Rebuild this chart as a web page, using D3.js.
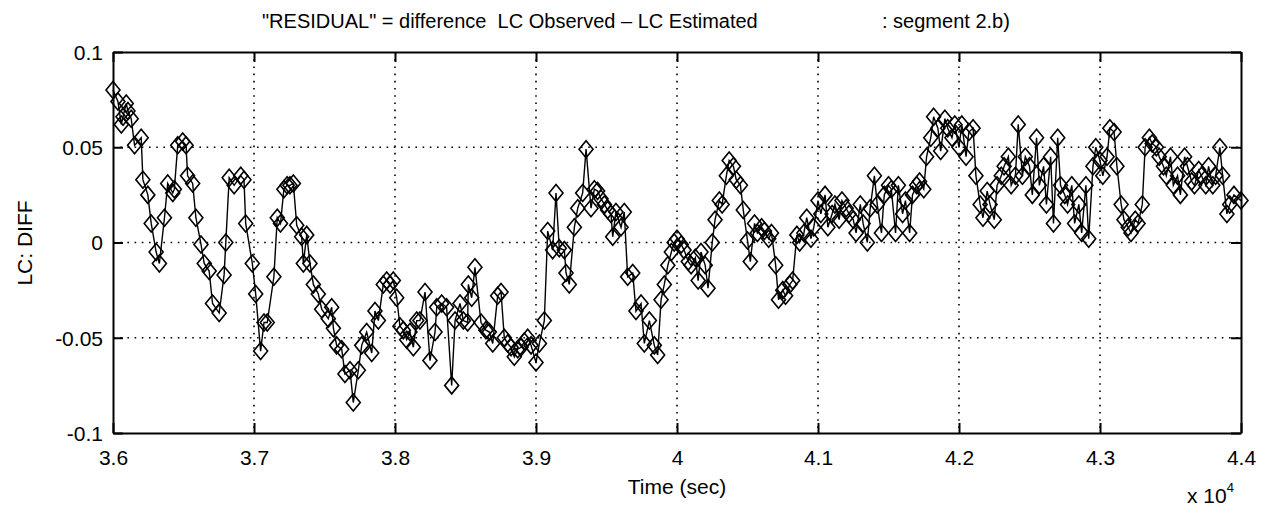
<!DOCTYPE html>
<html><head><meta charset="utf-8">
<script src="https://cdn.jsdelivr.net/npm/d3@7"></script>
<style>body{margin:0;background:#fff}text{font-family:"Liberation Sans",Arial,sans-serif;fill:#000}</style>
</head><body><svg id="c" width="1276" height="517"></svg>
<script>
const xTicks = [3.6,3.7,3.8,3.9,4.0,4.1,4.2,4.3,4.4];
const xTickLabels = ["3.6","3.7","3.8","3.9","4","4.1","4.2","4.3","4.4"];
const yTicks = [-0.1,-0.05,0,0.05,0.1];
const yTickLabels = ["-0.1","-0.05","0","0.05","0.1"];
// time in units of 1e4 s
const timeVals = [3.6000,3.6035,3.6059,3.6071,3.6094,3.6106,3.6129,3.6153,3.6200,3.6212,3.6247,3.6271,3.6306,3.6329,3.6365,3.6388,3.6424,3.6435,3.6459,3.6494,3.6518,3.6529,3.6565,3.6588,3.6624,3.6647,3.6682,3.6706,3.6753,3.6788,3.6800,3.6824,3.6859,3.6906,3.6929,3.6941,3.6988,3.7012,3.7047,3.7071,3.7094,3.7141,3.7165,3.7188,3.7212,3.7235,
3.7255,3.7279,3.7303,3.7338,3.7350,3.7374,3.7397,3.7421,3.7456,3.7480,3.7527,3.7551,3.7563,3.7586,3.7622,3.7645,3.7681,3.7704,3.7740,3.7764,3.7799,3.7835,3.7858,3.7882,3.7917,3.7941,3.7965,3.7988,3.8012,3.8035,3.8059,3.8083,3.8106,3.8130,3.8154,3.8177,3.8213,3.8248,3.8284,3.8296,3.8331,3.8366,3.8402,3.8426,3.8461,3.8485,3.8515,3.8520,3.8544,3.8567,
3.8610,3.8645,3.8669,3.8693,3.8728,3.8752,3.8775,3.8799,3.8823,3.8846,3.8870,3.8894,3.8917,3.8941,3.8965,3.9000,3.9024,3.9059,3.9083,3.9118,3.9142,3.9165,3.9201,3.9213,3.9236,3.9272,3.9296,3.9331,3.9355,3.9390,3.9414,3.9437,3.9461,3.9485,3.9508,3.9532,3.9544,3.9567,3.9603,3.9626,3.9650,3.9686,3.9709,3.9745,3.9768,3.9804,3.9839,3.9863,3.9887,3.9910,
3.9935,3.996,3.998,4.000,4.003,4.005,4.008,4.010,4.013,4.015,4.017,4.020,4.022,4.025,4.027,4.030,4.032,4.035,4.037,4.040,4.042,4.045,4.047,4.050,4.052,4.055,4.057,4.060,4.062,4.065,4.067,4.070,4.072,4.075,4.077,4.080,4.082,4.085,4.087,4.090,4.092,4.095,4.097,4.100,4.102,4.105,4.107,4.110,4.112,4.115,4.117,4.120,4.122,4.125,4.127,4.130,4.132,4.135,4.137,4.140,4.142,4.145,4.147,4.150,4.152,4.155,4.157,4.160,4.162,4.165,4.167,4.170,4.172,4.175,4.177,4.180,4.182,4.185,4.187,4.190,4.192,4.195,4.197,4.200,4.202,4.205,4.207,4.210,4.212,4.215,4.217,4.220,4.222,4.225,4.227,4.230,4.232,4.235,4.237,4.240,4.242,4.245,4.247,4.250,4.252,4.255,4.257,4.260,4.262,4.265,4.267,4.270,4.272,4.275,4.277,4.280,4.282,4.285,4.287,4.290,4.292,4.295,4.297,4.300,4.302,4.305,4.307,4.310,4.312,4.315,4.317,4.320,4.322,4.325,4.327,4.330,4.332,4.335,4.337,4.340,4.342,4.345,4.347,4.350,4.352,4.355,4.357,4.360,4.362,4.365,4.367,4.370,4.372,4.375,4.377,4.380,4.382,4.385,4.387,4.390,4.392,4.395,4.400];
const diffVals = [0.080,0.074,0.062,0.066,0.073,0.069,0.065,0.051,0.055,0.033,0.025,0.010,-0.005,-0.011,0.013,0.031,0.026,0.028,0.051,0.053,0.051,0.035,0.031,0.013,-0.001,-0.011,-0.015,-0.032,-0.037,-0.017,0.000,0.034,0.030,0.035,0.033,0.010,-0.011,-0.027,-0.057,-0.042,-0.042,-0.018,0.013,0.010,0.028,0.030,
0.030,0.031,0.009,0.003,-0.011,0.004,-0.011,-0.022,-0.027,-0.035,-0.040,-0.034,-0.045,-0.054,-0.056,-0.069,-0.067,-0.084,-0.067,-0.054,-0.047,-0.058,-0.036,-0.041,-0.022,-0.020,-0.022,-0.020,-0.029,-0.044,-0.046,-0.051,-0.047,-0.055,-0.041,-0.041,-0.026,-0.062,-0.047,-0.034,-0.032,-0.034,-0.075,-0.041,-0.032,-0.041,-0.042,-0.022,-0.029,-0.013,
-0.042,-0.046,-0.047,-0.053,-0.028,-0.026,-0.050,-0.053,-0.055,-0.060,-0.056,-0.055,-0.052,-0.050,-0.054,-0.063,-0.053,-0.041,0.006,-0.004,0.026,-0.003,-0.004,-0.016,-0.022,0.008,0.018,0.026,0.049,0.018,0.028,0.027,0.023,0.020,0.017,0.015,0.003,0.016,0.008,0.016,-0.018,-0.016,-0.036,-0.032,-0.053,-0.041,-0.054,-0.059,-0.030,-0.022,
-0.012,-0.005,0.000,0.002,-0.001,-0.004,-0.010,-0.012,-0.008,-0.020,-0.005,-0.012,-0.024,0.000,0.012,0.022,0.020,0.035,0.043,0.040,0.033,0.030,0.017,0.001,-0.010,0.010,0.005,0.008,0.006,0.002,0.005,-0.012,-0.030,-0.025,-0.028,-0.022,-0.020,0.004,0.000,0.005,0.013,0.002,0.008,0.022,0.015,0.025,0.008,0.015,0.020,0.012,0.022,0.018,0.015,0.012,0.005,0.020,0.010,0.000,0.018,0.035,0.020,0.005,0.025,0.030,0.028,0.005,0.030,0.015,0.022,0.005,0.025,0.030,0.032,0.028,0.045,0.055,0.066,0.060,0.048,0.065,0.060,0.055,0.062,0.050,0.062,0.045,0.058,0.060,0.035,0.020,0.013,0.027,0.020,0.012,0.030,0.035,0.040,0.045,0.030,0.035,0.062,0.035,0.045,0.040,0.025,0.055,0.030,0.040,0.020,0.045,0.010,0.055,0.030,0.025,0.020,0.030,0.010,0.020,0.005,0.030,0.002,0.040,0.050,0.043,0.035,0.045,0.060,0.058,0.040,0.020,0.012,0.008,0.005,0.012,0.010,0.020,0.050,0.055,0.052,0.050,0.045,0.040,0.035,0.045,0.030,0.035,0.025,0.045,0.040,0.032,0.030,0.038,0.035,0.030,0.040,0.030,0.035,0.050,0.035,0.015,0.020,0.025,0.022];

const svg = d3.select("#c");
svg.append("rect").attr("width",1276).attr("height",517).attr("fill","#fff");
const L=113,R=1241,T=52,B=433;
const x = d3.scaleLinear().domain([3.6,4.4]).range([L,R]);
const y = d3.scaleLinear().domain([-0.1,0.1]).range([B,T]);

// grid
const g = svg.append("g");
g.selectAll("line.gx").data(xTicks.slice(1,-1)).join("line")
  .attr("x1",d=>x(d)).attr("x2",d=>x(d)).attr("y1",T).attr("y2",B)
  .attr("stroke","#000").attr("stroke-width",1.6).attr("stroke-dasharray","1.6,5.6");
g.selectAll("line.gy").data(yTicks.slice(1,-1)).join("line")
  .attr("y1",d=>y(d)).attr("y2",d=>y(d)).attr("x1",L).attr("x2",R)
  .attr("stroke","#000").attr("stroke-width",1.6).attr("stroke-dasharray","1.6,5.6");

// axes
const fmtX = (d,i)=>xTickLabels[i], fmtY=(d,i)=>yTickLabels[i];
const ax = svg.append("g").attr("transform",`translate(0,${B})`)
  .call(d3.axisBottom(x).tickValues(xTicks).tickFormat(fmtX).tickSizeInner(-10).tickSizeOuter(0).tickPadding(17));
const axT = svg.append("g").attr("transform",`translate(0,${T})`)
  .call(d3.axisTop(x).tickValues(xTicks).tickFormat("").tickSizeInner(-10).tickSizeOuter(0));
const ay = svg.append("g").attr("transform",`translate(${L},0)`)
  .call(d3.axisLeft(y).tickValues(yTicks).tickFormat(fmtY).tickSizeInner(-10).tickSizeOuter(0).tickPadding(10));
const ayR = svg.append("g").attr("transform",`translate(${R},0)`)
  .call(d3.axisRight(y).tickValues(yTicks).tickFormat("").tickSizeInner(-10).tickSizeOuter(0));
[ax,axT,ay,ayR].forEach(a=>{
  a.select(".domain").attr("stroke","#000").attr("stroke-width",2);
  a.selectAll(".tick line").attr("stroke","#000").attr("stroke-width",2);
  a.selectAll(".tick text").attr("font-size",21).attr("font-family","Liberation Sans, Arial, sans-serif").attr("fill","#000");
});
ay.selectAll(".tick text").attr("dy","0.35em");

// data
const pts = timeVals.map((t,i)=>({t, v: diffVals[i]}));
svg.append("path").datum(pts)
  .attr("d", d3.line().x(d=>x(d.t)).y(d=>y(d.v)))
  .attr("fill","none").attr("stroke","#000").attr("stroke-width",1.4);
svg.append("g").selectAll("path").data(pts).join("path")
  .attr("transform",d=>`translate(${x(d.t)},${y(d.v)})`)
  .attr("d","M0,-8.5L7,0L0,8.5L-7,0Z")
  .attr("fill","none").attr("stroke","#000").attr("stroke-width",1.6);

// texts
svg.append("text").attr("x",262).attr("y",28).attr("font-size",20)
  .attr("xml:space","preserve").style("white-space","pre")
  .text('"RESIDUAL" = difference  LC Observed \u2013 LC Estimated');
svg.append("text").attr("x",882).attr("y",28).attr("font-size",20).text(': segment 2.b)');
svg.append("text").attr("x",677).attr("y",494).attr("text-anchor","middle").attr("font-size",21).text("Time (sec)");
svg.append("text").attr("transform","translate(32,243) rotate(-90)").attr("text-anchor","middle").attr("font-size",21).text("LC: DIFF");
const xe = svg.append("text").attr("x",1187).attr("y",503).attr("font-size",21);
xe.append("tspan").text("x 10");
xe.append("tspan").attr("font-size",13).attr("dy",-11).text("4");
</script></body></html>
